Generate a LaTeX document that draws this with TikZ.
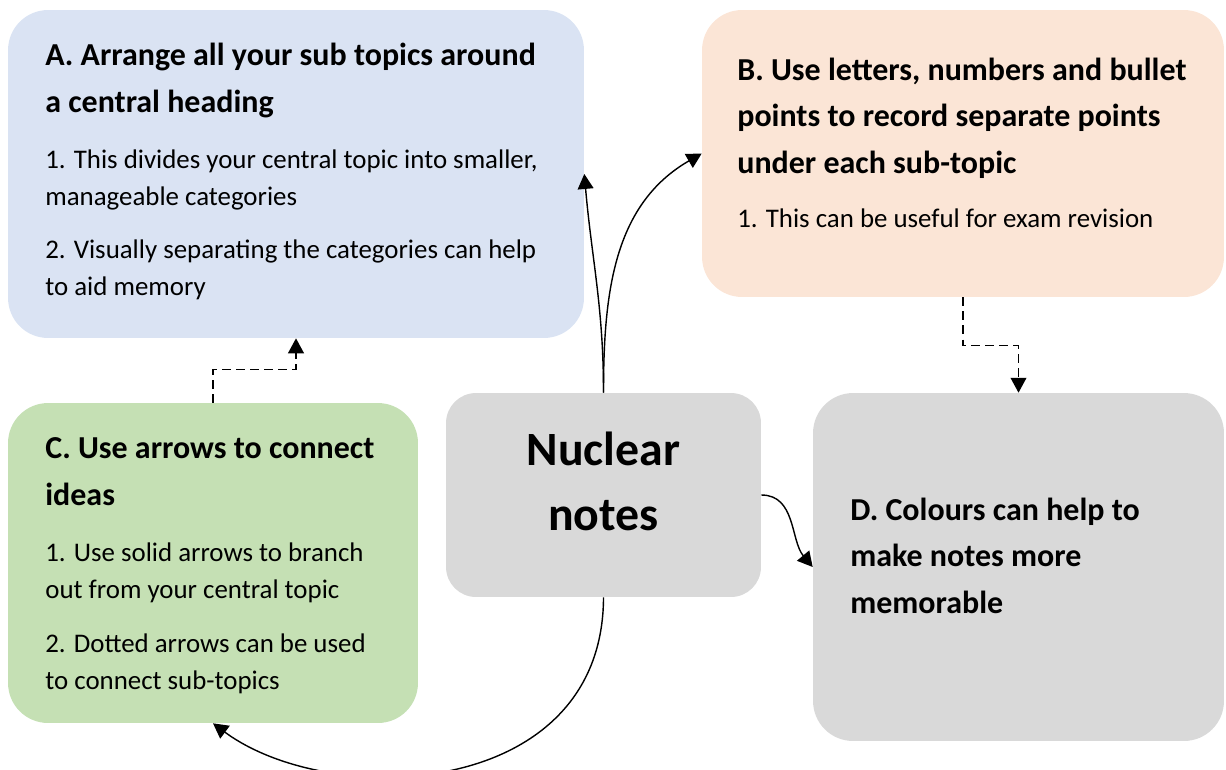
\documentclass[tikz,border=0pt]{standalone}
\usepackage{fontspec}
\setmainfont{Carlito}
\usetikzlibrary{arrows.meta}
\definecolor{boxblue}{HTML}{DAE3F3}
\definecolor{boxpeach}{HTML}{FBE5D6}
\definecolor{boxgreen}{HTML}{C5E0B4}
\definecolor{boxgrey}{HTML}{D9D9D9}

\begin{document}
\begin{tikzpicture}[x=0.02cm, y=-0.02cm,
    card/.style={rounded corners=0.8cm, inner sep=0pt},
    ttl/.style={anchor=base west, align=left, inner sep=0pt, font=\bfseries\fontsize{18.2}{26.2}\selectfont},
    txt/.style={anchor=base west, align=left, inner sep=0pt, font=\fontsize{15.3}{21}\selectfont},
    link/.style={line width=0.8pt, -{Triangle[length=8.5pt, width=9pt]}},
    dlink/.style={link, dash pattern=on 5pt off 3pt}]
% page size
\useasboundingbox (0,0) rectangle (1226,769);

% boxes
\node[card, fill=boxblue, minimum width=11.52cm, minimum height=6.56cm] (A) at (296,174) {};
\node[card, fill=boxpeach, minimum width=10.44cm, minimum height=5.74cm] (B) at (963,153.5) {};
\node[card, fill=boxgreen, minimum width=8.2cm, minimum height=6.4cm] (C) at (213,563) {};
\node[card, fill=boxgrey, rounded corners=0.6cm, minimum width=6.3cm, minimum height=4.08cm] (nuc) at (603.5,495) {};
\node[card, fill=boxgrey, minimum width=8.22cm, minimum height=6.96cm] (D) at (1018.5,567) {};

% A (base = last line)
\node[ttl] (A-t) at (45,112) {A. Arrange all your sub topics around\\a central heading};
\node[txt] (A-1) at (45,205) {1. This divides your central topic into smaller,\\manageable categories};
\node[txt] (A-2) at (45,295) {2. Visually separating the categories can help\\to aid memory};

% B
\node[ttl] (B-t) at (737,173) {B. Use letters, numbers and bullet\\points to record separate points\\under each sub-topic};
\node[txt] (B-1) at (737,227) {1. This can be useful for exam revision};

% C
\node[ttl] (C-t) at (45,505) {C. Use arrows to connect\\ideas};
\node[txt] (C-1) at (45,598) {1. Use solid arrows to branch\\out from your central topic};
\node[txt] (C-2) at (45,689) {2. Dotted arrows can be used\\to connect sub-topics};

% centre
\node[anchor=base, align=center, inner sep=0pt, font=\bfseries\fontsize{27.2}{37}\selectfont] (nuc-t) at (603.5,530) {Nuclear\\notes};

% D
\node[ttl] (D-t) at (850,613) {D. Colours can help to\\make notes more\\memorable};

% solid arrows from the centre
\draw[link] (nuc.north) to[out=90, in=-85] (A.east);
\draw[link] (nuc.north) to[out=90, in=-150] (B.west);
\draw[link] (nuc.east) to[out=0, in=130] (D.west);
\draw[link] (nuc.south) .. controls (603,800) and (330,810) .. (C.south);

% dashed arrows between sub-topics
\draw[dlink] (C.north) -- ++(0,-33) -| (A.south);
\draw[dlink] (B.south) -- ++(0,48) -| (D.north);
\end{tikzpicture}
\end{document}
